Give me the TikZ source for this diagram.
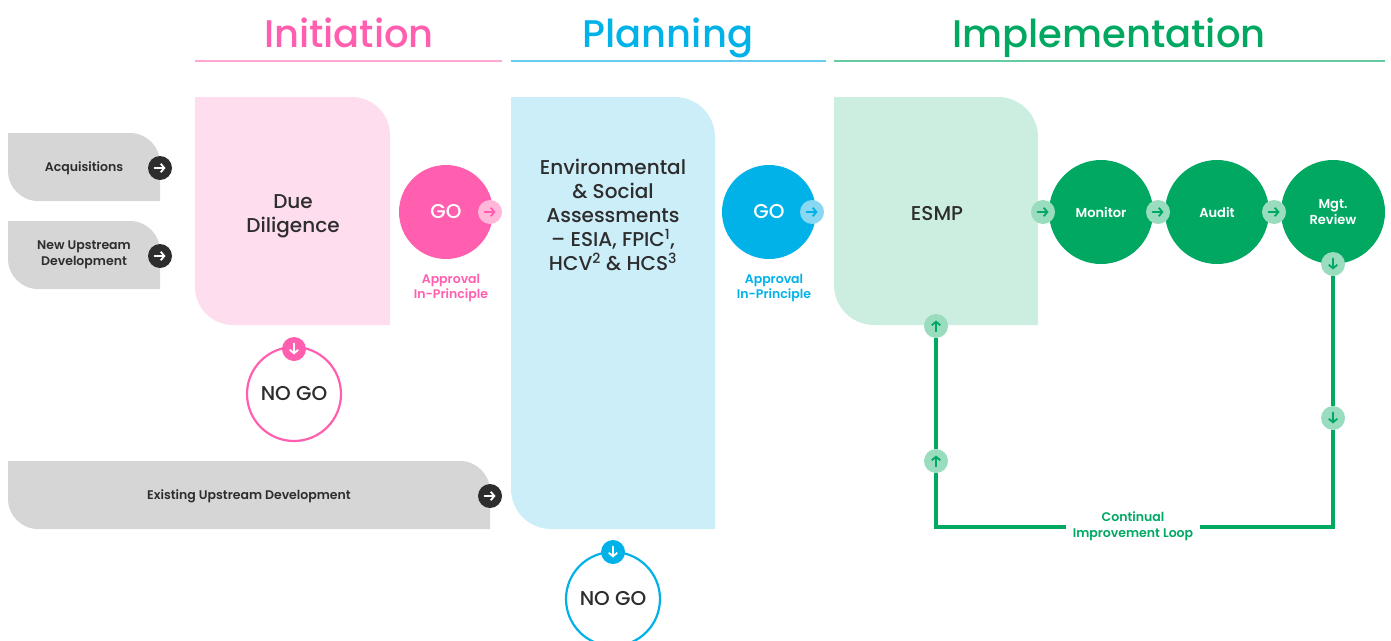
\documentclass[tikz,border=0pt]{standalone}
\usepackage{fontspec}
\setmainfont{Poppins}[BoldFont={* Medium}]
\newfontfamily\semib{Poppins SemiBold}
\usetikzlibrary{arrows.meta}

\definecolor{ink}{HTML}{2D2D2D}
\definecolor{greybox}{HTML}{D6D6D6}
\definecolor{ipink}{HTML}{FF5FAE}
\definecolor{ipinkbg}{HTML}{FDDDEE}
\definecolor{ipinkline}{HTML}{FFA8D2}
\definecolor{ipinkdot}{HTML}{FFB7DA}
\definecolor{pblue}{HTML}{00B2E8}
\definecolor{pbluebg}{HTML}{CCEEF9}
\definecolor{pblueline}{HTML}{66CDEF}
\definecolor{pbluedot}{HTML}{8AD7F2}
\definecolor{mgreen}{HTML}{00A862}
\definecolor{mgreenbg}{HTML}{CCEEE0}
\definecolor{mgreenline}{HTML}{66CBA0}
\definecolor{mgreendot}{HTML}{99DCBE}

% box with a round top-right and bottom-left corner: x1 y1 x2 y2 radius colour
\newcommand{\phasebox}[6]{%
  \fill[#6] (#1,#2) -- ({#3-#5},#2) arc[start angle=-90, end angle=0, radius=#5]
    -- (#3,#4) -- ({#1+#5},#4) arc[start angle=90, end angle=180, radius=#5] -- cycle;}
% small round arrow icon: name, position, fill, arrow colour, start shift, end shift
\newcommand{\goicon}[6]{%
  \node[dot, fill=#3] (#1) at (#2) {};
  \draw[arrowmark, #4] ([#5]#1.center) -- ([#6]#1.center);}

\begin{document}
\begin{tikzpicture}[x=1pt, y=-1pt,
  phasetitle/.style={anchor=base, font=\fontsize{38.5}{44}\selectfont\bfseries},
  smalltext/.style={text=ink, align=center, font=\fontsize{12.5}{16}\selectfont\semib},
  boxtext/.style={text=ink, align=center, font=\fontsize{20}{24}\selectfont\bfseries},
  dot/.style={circle, minimum size=24pt, inner sep=0pt},
  arrowmark/.style={line width=1.8pt, line cap=round, -{Straight Barb[length=3.6pt, width=8.5pt]}},
  gonode/.style={circle, minimum size=94pt, inner sep=0pt, text=white, font=\fontsize{20}{24}\selectfont\bfseries},
  nogonode/.style={circle, minimum size=94pt, inner sep=0pt, line width=2.2pt, fill=white, text=ink, font=\fontsize{20}{24}\selectfont\bfseries},
  stepnode/.style={circle, minimum size=104pt, inner sep=0pt, fill=mgreen, text=white, align=center, font=\fontsize{13}{16}\selectfont\semib},
  approval/.style={align=center, font=\fontsize{12.5}{15.5}\selectfont\semib},
  loopline/.style={draw=mgreen, line width=4.5pt, line join=miter}]
\useasboundingbox (0,0) rectangle (1391,640);

% phase titles
\node[phasetitle, text=ipink] (tinit) at (349,47) {Initiation};
\node[phasetitle, text=pblue] (tplan) at (668,47) {Planning};
\node[phasetitle, text=mgreen] (timpl) at (1109,47) {Implementation};
\draw[ipinkline, line width=1.5pt] (195,61) -- (502,61);
\draw[pblueline, line width=1.5pt] (511,61) -- (826,61);
\draw[mgreenline, line width=1.5pt] (834,61) -- (1385,61);

% starting points
\phasebox{8}{133}{160}{201}{30}{greybox}
\phasebox{8}{221}{160}{289}{30}{greybox}
\phasebox{8}{461}{490}{529}{30}{greybox}
\node[smalltext] (acq) at (84,168) {Acquisitions};
\node[smalltext] (newup) at (84,255) {New Upstream\\Development};
\node[smalltext] (exup) at (249,496) {Existing Upstream Development};
\goicon{acqgo}{160,168}{ink}{white}{xshift=-5.5pt}{xshift=5.5pt}
\goicon{newgo}{160,256}{ink}{white}{xshift=-5.5pt}{xshift=5.5pt}
\goicon{exgo}{490,496}{ink}{white}{xshift=-5.5pt}{xshift=5.5pt}

% phase boxes
\phasebox{195}{97}{390}{325}{38}{ipinkbg}
\phasebox{511}{97}{715}{529}{40}{pbluebg}
\phasebox{834}{97}{1038}{325}{40}{mgreenbg}
\node[boxtext] (dd) at (293,216) {Due\\Diligence};
\node[boxtext] (esa) at (613,215) {Environmental\\\& Social\\Assessments\\-- ESIA, FPIC\textsuperscript{1},\\HCV\textsuperscript{2} \& HCS\textsuperscript{3}};
\node[boxtext] (esmp) at (937,214) {ESMP};

% initiation gate
\node[gonode, fill=ipink] (goinit) at (446,212) {GO};
\goicon{goinitarr}{490,212}{ipinkdot}{ipink}{xshift=-5.5pt}{xshift=5.5pt}
\node[approval, text=ipink] (apinit) at (451,288) {Approval\\In-Principle};
\node[nogonode, draw=ipink] (noinit) at (294,394) {NO GO};
\goicon{noinitarr}{294,349}{ipink}{white}{yshift=5.5pt}{yshift=-5.5pt}

% planning gate
\node[gonode, fill=pblue] (goplan) at (769,212) {GO};
\goicon{goplanarr}{812,212}{pbluedot}{pblue}{xshift=-5.5pt}{xshift=5.5pt}
\node[approval, text=pblue] (applan) at (774,288) {Approval\\In-Principle};
\node[nogonode, draw=pblue] (noplan) at (613,599) {NO GO};
\goicon{noplanarr}{613,552}{pblue}{white}{yshift=5.5pt}{yshift=-5.5pt}

% implementation cycle
\node[stepnode] (mon) at (1101,212) {Monitor};
\node[stepnode] (aud) at (1217,212) {Audit};
\node[stepnode] (mgt) at (1333,212) {Mgt.\\Review};
\goicon{esmparr}{1043,212}{mgreendot}{mgreen}{xshift=-5.5pt}{xshift=5.5pt}
\goicon{monarr}{1158,212}{mgreendot}{mgreen}{xshift=-5.5pt}{xshift=5.5pt}
\goicon{audarr}{1274,212}{mgreendot}{mgreen}{xshift=-5.5pt}{xshift=5.5pt}
\goicon{mgtarr}{1333,264}{mgreendot}{mgreen}{yshift=5.5pt}{yshift=-5.5pt}
\goicon{downarr}{1333,418}{mgreendot}{mgreen}{yshift=5.5pt}{yshift=-5.5pt}
\goicon{uparr}{936,461}{mgreendot}{mgreen}{yshift=-5.5pt}{yshift=5.5pt}
\goicon{esmpin}{936,326}{mgreendot}{mgreen}{yshift=-5.5pt}{yshift=5.5pt}

% continual improvement loop
\node[approval, text=mgreen, inner xsep=7pt] (cil) at (1133,526) {Continual\\Improvement Loop};
\coordinate (lc) at (936,527);
\coordinate (rc) at (1333,527);
\draw[loopline] (mgtarr) -- (downarr);
\draw[loopline] (downarr) -- (rc) -- (cil.east |- rc);
\draw[loopline] (cil.west |- lc) -- (lc) -- (uparr);
\draw[loopline] (uparr) -- (esmpin);
\end{tikzpicture}
\end{document}
